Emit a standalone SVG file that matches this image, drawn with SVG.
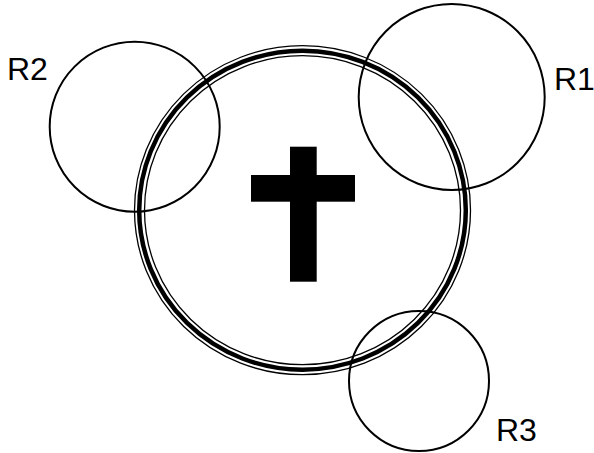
<svg xmlns="http://www.w3.org/2000/svg" width="594" height="453" viewBox="0 0 594 453">
<style>
.c{fill:none;stroke:#000;stroke-width:2}
.thin{fill:none;stroke:#000;stroke-width:1.3}
.thick{fill:none;stroke:#000;stroke-width:4.5}
.lbl{font-family:"Liberation Sans",Arial,sans-serif;font-size:32px;fill:#000}
</style>
<rect width="594" height="453" fill="#fff"/>
<g id="ring">
<ellipse class="thin" cx="302.5" cy="210.2" rx="168" ry="164.5"/>
<ellipse class="thick" cx="302.5" cy="210.2" rx="163.3" ry="159.5"/>
<ellipse class="thin" cx="302.5" cy="210.2" rx="158" ry="154.5"/>
</g>
<g id="cross">
<rect x="290" y="146.7" width="26.7" height="135" fill="#000"/>
<rect x="251" y="175" width="104" height="26.7" fill="#000"/>
</g>
<g id="R2"><circle class="c" cx="134.7" cy="126.7" r="85"/><text class="lbl" x="7" y="80">R2</text></g>
<g id="R1"><circle class="c" cx="451.7" cy="97" r="93"/><text class="lbl" x="554" y="90">R1</text></g>
<g id="R3"><circle class="c" cx="419" cy="381" r="70"/><text class="lbl" x="496" y="441">R3</text></g>
<g id="connectors"></g>
</svg>
